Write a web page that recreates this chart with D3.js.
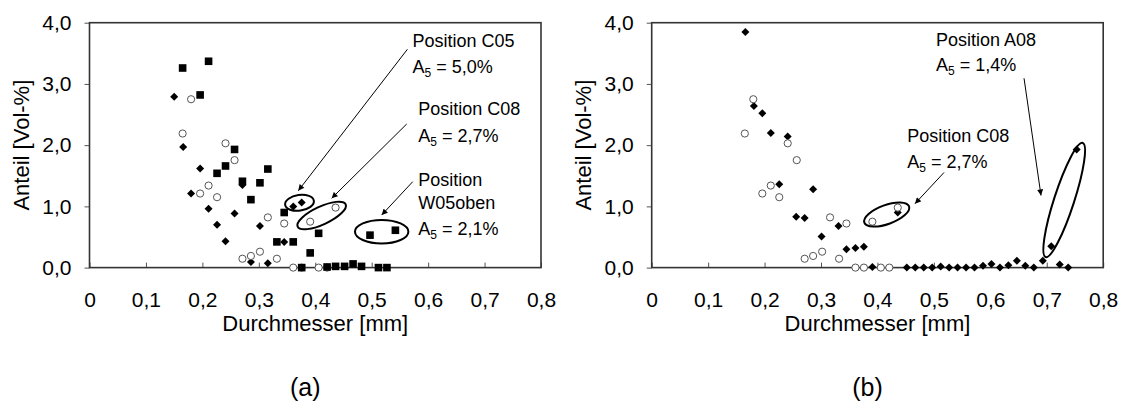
<!DOCTYPE html>
<html><head><meta charset="utf-8">
<script src="https://cdnjs.cloudflare.com/ajax/libs/d3/7.8.5/d3.min.js"></script>
<style>body{margin:0;background:#fff}svg{display:block}text{font-family:"Liberation Sans",Arial,sans-serif;fill:#000}</style>
</head><body><svg id="c" width="1122" height="411"></svg>
<script>
// ---------- data ----------
const xTicks = [0,0.1,0.2,0.3,0.4,0.5,0.6,0.7,0.8];
const yTicks = [0,1,2,3,4];
// Panel (a): Position C05 (filled diamonds)
const c05D = [0.150,0.166,0.180,0.196,0.211,0.226,0.241,0.257,0.271,0.286,0.302,0.316,0.345,0.361,0.376];
const c05V = [2.79,1.97,1.21,1.62,0.96,0.70,0.43,0.885,1.35,0.09,0.68,0.07,0.42,1.00,1.065];
// Panel (a)+(b): Position C08 (open circles)
const c08D = [0.165,0.180,0.196,0.211,0.226,0.241,0.257,0.271,0.286,0.302,0.316,0.332,0.345,0.361,0.376,0.391,0.406,0.421,0.436];
const c08V = [2.19,2.75,1.21,1.34,1.15,2.03,1.755,0.145,0.19,0.26,0.82,0.145,0.72,0.00,0.00,0.75,0.00,0.00,0.98];
// Panel (a): Position W05oben (filled squares)
const w05D = [0.165,0.196,0.211,0.226,0.241,0.257,0.271,0.286,0.302,0.316,0.332,0.345,0.361,0.376,0.391,0.406,0.421,0.436,0.452,0.467,0.482,0.497,0.512,0.527,0.542];
const w05V = [3.26,2.82,3.37,1.54,1.66,1.93,1.41,1.11,1.385,1.61,0.42,0.90,0.42,0.00,0.24,0.56,0.01,0.02,0.02,0.06,0.02,0.53,0.00,0.00,0.61];
// Panel (b): Position A08 (filled diamonds)
const a08D = [0.166,0.181,0.196,0.211,0.226,0.241,0.256,0.271,0.286,0.301,0.331,0.345,0.361,0.376,0.391,0.436,0.452,0.467,0.482,0.497,0.512,0.527,0.542,0.557,0.572,0.587,0.602,0.617,0.632,0.647,0.662,0.677,0.693,0.708,0.723,0.738,0.753];
const a08V = [3.85,2.64,2.52,2.20,1.36,2.14,0.83,0.81,1.28,0.51,0.68,0.30,0.32,0.34,0.01,0.90,0,0,0,0,0.02,0,0,0,0,0.03,0.06,0,0.04,0.11,0.03,0,0.11,0.35,0.05,0,1.93];

const zip = (d, v) => d.map((x, i) => ({d: x, v: v[i]}));

// annotations in data coordinates
const annA = {
  texts: [
    {t:"Position C05", d:0.5722, v:3.608},
    {t:"A", sub:"5", rest:" = 5,0%", d:0.5722, v:3.183},
    {t:"Position C08", d:0.5826, v:2.492},
    {t:"A", sub:"5", rest:" = 2,7%", d:0.5826, v:2.056},
    {t:"Position", d:0.5826, v:1.338},
    {t:"W05oben", d:0.5826, v:0.957},
    {t:"A", sub:"5", rest:" = 2,1%", d:0.5826, v:0.532}
  ],
  arrows: [
    {d1:0.5633, v1:3.566, d2:0.3700, v2:1.256},
    {d1:0.5620, v1:2.345, d2:0.4291, v2:1.132},
    {d1:0.5727, v1:1.403, d2:0.5177, v2:0.859}
  ],
  ellipses: [
    {d:0.3721, v:1.058, rx:14.5, ry:7.8, a:-8},
    {d:0.4114, v:0.851, rx:26.5, ry:8.9, a:-25},
    {d:0.5177, v:0.586, rx:26.7, ry:11.7, a:0}
  ]
};
const annB = {
  texts: [
    {t:"Position A08", d:0.5037, v:3.624},
    {t:"A", sub:"5", rest:" = 1,4%", d:0.5037, v:3.211},
    {t:"Position C08", d:0.4529, v:2.056},
    {t:"A", sub:"5", rest:" = 2,7%", d:0.4529, v:1.632}
  ],
  arrows: [
    {d1:0.5179, v1:1.553, d2:0.4665, v2:1.044},
    {d1:0.6597, v1:3.093, d2:0.6898, v2:1.178}
  ],
  ellipses: [
    {d:0.4164, v:0.867, rx:23.8, ry:9.5, a:-20},
    {d:0.7309, v:1.104, rx:60, ry:10, a:-72}
  ]
};

// ---------- drawing ----------
const svg = d3.select("#c");
svg.append("rect").attr("width",1122).attr("height",411).attr("fill","#fff");
svg.append("defs").append("marker")
  .attr("id","ah").attr("viewBox","0 0 10 10").attr("refX",10).attr("refY",5)
  .attr("markerWidth",7).attr("markerHeight",6).attr("markerUnits","userSpaceOnUse")
  .attr("orient","auto")
  .append("path").attr("d","M0,0 L10,5 L0,10 Z").attr("fill","#000");

const fmt = d => d === 0 ? "0" : d.toFixed(1).replace(".", ",");

function panel(left, series, ann, label) {
  const W = 451.5, top = 22.7, bottom = 267.6;
  const x = d3.scaleLinear().domain([0,0.8]).range([left, left + W]);
  const y = d3.scaleLinear().domain([0,4]).range([bottom, top]);
  const g = svg.append("g");

  // axes
  const xa = g.append("g").attr("transform",`translate(0,${bottom})`)
    .call(d3.axisBottom(x).tickValues(xTicks).tickFormat(fmt).tickSizeInner(-5).tickSizeOuter(0).tickPadding(24));
  const ya = g.append("g").attr("transform",`translate(${left},0)`)
    .call(d3.axisLeft(y).tickValues(yTicks).tickFormat(d => d.toFixed(1).replace(".", ",")).tickSizeInner(5).tickSizeOuter(0).tickPadding(13));
  [xa, ya].forEach(a => {
    a.select(".domain").remove();
    a.selectAll("line").attr("stroke","#555").attr("stroke-width",1);
    a.selectAll("text").attr("font-size",21).attr("font-family",'"Liberation Sans",Arial,sans-serif').attr("fill","#000");
  });

  // frame
  g.append("rect").attr("x",left).attr("y",top).attr("width",W).attr("height",bottom-top)
    .attr("fill","none").attr("stroke","#333").attr("stroke-width",1.6);

  // titles
  g.append("text").attr("x", left + W/2).attr("y", 331).attr("text-anchor","middle")
    .attr("font-size",22).text("Durchmesser [mm]");
  g.append("text").attr("transform",`translate(${left-68},${(top+bottom)/2}) rotate(-90)`)
    .attr("text-anchor","middle").attr("dy","0.35em").attr("font-size",22).text("Anteil [Vol-%]");
  g.append("text").attr("x", left + W/2 - 10).attr("y", 396).attr("text-anchor","middle")
    .attr("font-size",25).text(label);

  // series
  series.forEach(s => {
    const pts = zip(s.d, s.v);
    if (s.shape === "diamond") {
      g.append("g").selectAll("path").data(pts).join("path")
        .attr("transform", p => `translate(${x(p.d)},${y(p.v)})`)
        .attr("d","M0,-4 L4,0 L0,4 L-4,0 Z").attr("fill","#000");
    } else if (s.shape === "square") {
      g.append("g").selectAll("rect").data(pts).join("rect")
        .attr("x", p => x(p.d) - 3.8).attr("y", p => y(p.v) - 3.8)
        .attr("width",7.6).attr("height",7.6).attr("fill","#000");
    } else {
      g.append("g").selectAll("circle").data(pts).join("circle")
        .attr("cx", p => x(p.d)).attr("cy", p => y(p.v)).attr("r",3.6)
        .attr("fill","#fff").attr("stroke","#555").attr("stroke-width",1);
    }
  });

  // annotations
  ann.ellipses.forEach(e => {
    g.append("ellipse").attr("cx",0).attr("cy",0).attr("rx",e.rx).attr("ry",e.ry)
      .attr("transform",`translate(${x(e.d)},${y(e.v)}) rotate(${e.a})`)
      .attr("fill","none").attr("stroke","#000").attr("stroke-width",2);
  });
  ann.arrows.forEach(a => {
    g.append("line").attr("x1",x(a.d1)).attr("y1",y(a.v1)).attr("x2",x(a.d2)).attr("y2",y(a.v2))
      .attr("stroke","#000").attr("stroke-width",1).attr("marker-end","url(#ah)");
  });
  ann.texts.forEach(t => {
    const tx = g.append("text").attr("x",x(t.d)).attr("y",y(t.v)).attr("font-size",18);
    tx.append("tspan").text(t.t);
    if (t.sub) {
      tx.append("tspan").attr("font-size",12).attr("dy",4).text(t.sub);
      tx.append("tspan").attr("dy",-4).text(t.rest);
    }
  });
}

panel(89.5, [
  {d:c05D, v:c05V, shape:"diamond"},
  {d:c08D, v:c08V, shape:"circle"},
  {d:w05D, v:w05V, shape:"square"}
], annA, "(a)");

panel(651.7, [
  {d:a08D, v:a08V, shape:"diamond"},
  {d:c08D, v:c08V, shape:"circle"}
], annB, "(b)");
</script></body></html>
